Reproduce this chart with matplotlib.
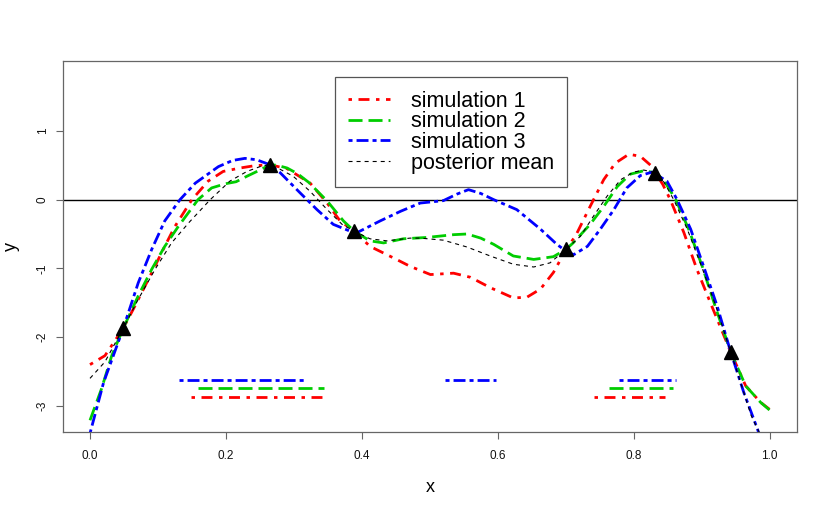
import matplotlib
matplotlib.use("Agg")
import matplotlib.pyplot as plt

plt.rcParams['font.family'] = ['Liberation Sans', 'DejaVu Sans']
plt.rcParams['lines.scale_dashes'] = False

# ---- data ----
sim1_x = [0.000, 0.022, 0.049, 0.066, 0.091, 0.110, 0.125, 0.150, 0.174, 0.196, 0.221, 0.240,
          0.252, 0.265, 0.290, 0.324, 0.349, 0.368, 0.389, 0.412, 0.447, 0.471, 0.501, 0.535,
          0.560, 0.589, 0.623, 0.643, 0.663, 0.682, 0.701, 0.715, 0.736, 0.756, 0.773, 0.793,
          0.810, 0.825, 0.832, 0.843, 0.854, 0.874, 0.893, 0.913, 0.933, 0.943, 0.965, 0.987, 1.000]
sim1_y = [-2.40, -2.27, -1.87, -1.55, -1.06, -0.68, -0.39, 0.00, 0.27, 0.41, 0.46, 0.49,
          0.50, 0.507, 0.45, 0.24, -0.05, -0.31, -0.46, -0.68, -0.85, -0.97, -1.09, -1.07,
          -1.13, -1.28, -1.43, -1.42, -1.30, -1.06, -0.72, -0.52, -0.10, 0.29, 0.53, 0.66,
          0.63, 0.50, 0.39, 0.22, 0.00, -0.48, -1.01, -1.50, -1.98, -2.22, -2.71, -2.95, -3.05]

sim2_x = [0.000, 0.017, 0.032, 0.049, 0.071, 0.091, 0.110, 0.130, 0.159, 0.179, 0.199, 0.215,
          0.231, 0.250, 0.265, 0.275, 0.290, 0.305, 0.322, 0.349, 0.373, 0.389, 0.412, 0.432,
          0.461, 0.496, 0.535, 0.555, 0.575, 0.594, 0.623, 0.653, 0.682, 0.701, 0.711, 0.736,
          0.756, 0.776, 0.795, 0.815, 0.832, 0.844, 0.862, 0.881, 0.901, 0.920, 0.943, 0.965,
          0.987, 1.000]
sim2_y = [-3.21, -2.75, -2.27, -1.87, -1.40, -1.01, -0.68, -0.39, 0.00, 0.17, 0.23, 0.26,
          0.34, 0.43, 0.507, 0.50, 0.46, 0.38, 0.25, -0.02, -0.31, -0.46, -0.60, -0.63,
          -0.57, -0.55, -0.51, -0.50, -0.56, -0.65, -0.82, -0.87, -0.83, -0.72, -0.63, -0.36,
          -0.10, 0.19, 0.37, 0.42, 0.39, 0.29, 0.00, -0.43, -0.97, -1.55, -2.22, -2.71,
          -2.95, -3.06]

sim3_x = [0.000, 0.020, 0.049, 0.071, 0.091, 0.110, 0.1325, 0.155, 0.189, 0.210, 0.228, 0.245,
          0.265, 0.280, 0.309, 0.334, 0.358, 0.383, 0.393, 0.427, 0.457, 0.486, 0.520, 0.540,
          0.557, 0.575, 0.594, 0.628, 0.663, 0.687, 0.702, 0.712, 0.732, 0.751, 0.771, 0.790,
          0.810, 0.827, 0.849, 0.864, 0.884, 0.903, 0.923, 0.943, 0.962, 0.982, 1.000]
sim3_y = [-3.40, -2.66, -1.87, -1.21, -0.72, -0.31, 0.00, 0.24, 0.48, 0.57, 0.60, 0.58,
          0.507, 0.39, 0.10, -0.145, -0.36, -0.46, -0.48, -0.31, -0.17, -0.05, -0.015, 0.08,
          0.145, 0.09, 0.00, -0.145, -0.43, -0.65, -0.76, -0.80, -0.68, -0.43, -0.145, 0.17,
          0.35, 0.40, 0.27, 0.00, -0.43, -0.97, -1.55, -2.22, -2.80, -3.33, -3.85]

mean_x = [0.000, 0.022, 0.049, 0.071, 0.096, 0.120, 0.145, 0.177, 0.206, 0.231, 0.253, 0.265,
          0.280, 0.299, 0.324, 0.349, 0.371, 0.389, 0.412, 0.437, 0.471, 0.486, 0.520, 0.555,
          0.589, 0.623, 0.653, 0.677, 0.701, 0.722, 0.741, 0.761, 0.781, 0.800, 0.815, 0.832,
          0.845, 0.859, 0.879, 0.900, 0.921, 0.943, 0.962, 0.973, 1.000]
mean_y = [-2.60, -2.36, -1.87, -1.45, -1.01, -0.63, -0.34, 0.00, 0.27, 0.41, 0.49, 0.507,
          0.44, 0.34, 0.12, -0.145, -0.36, -0.46, -0.57, -0.60, -0.56, -0.56, -0.59, -0.69,
          -0.82, -0.94, -0.98, -0.92, -0.72, -0.53, -0.24, 0.05, 0.29, 0.40, 0.43, 0.39,
          0.25, 0.00, -0.43, -0.97, -1.55, -2.22, -2.80, -3.14, -3.70]

obs_x = [0.049, 0.265, 0.389, 0.701, 0.832, 0.943]
obs_y = [-1.87, 0.507, -0.46, -0.72, 0.39, -2.22]

# intervals marked along the bottom (start, end) and their heights
sim3_int = [(0.131, 0.317), (0.522, 0.598), (0.779, 0.862)]
sim2_int = [(0.159, 0.345), (0.764, 0.858)]
sim1_int = [(0.148, 0.341), (0.741, 0.846)]
sim3_lvl, sim2_lvl, sim1_lvl = -2.62, -2.74, -2.87

labels = ["simulation 1", "simulation 2", "simulation 3", "posterior mean"]
xticks = [0.0, 0.2, 0.4, 0.6, 0.8, 1.0]
xticklabels = ["0.0", "0.2", "0.4", "0.6", "0.8", "1.0"]
yticks = [-3, -2, -1, 0, 1]

# ---- styles ----
RED, GREEN, BLUE = "#ff0000", "#00cd00", "#0000ff"
LW = 2.0
dash_red = (0, (2.5, 4.7, 7.9, 4.7))
dash_green = (0, (10.1, 4.3))
dash_blue = (0, (2.9, 2.9, 8.6, 2.9))
dash_black = (0, (2.9, 2.9))

fig = plt.figure(figsize=(8.3, 5.11), dpi=100)
ax = fig.add_axes([63/830, 79.5/511, 734/830, 370/511])

ax.axhline(0, color="black", lw=1.0, zorder=1)

h1, = ax.plot(sim1_x, sim1_y, color=RED, lw=LW, linestyle=dash_red, label=labels[0])
h2, = ax.plot(sim2_x, sim2_y, color=GREEN, lw=LW, linestyle=dash_green, label=labels[1])
h3, = ax.plot(sim3_x, sim3_y, color=BLUE, lw=LW, linestyle=dash_blue, label=labels[2])
h4, = ax.plot(mean_x, mean_y, color="black", lw=0.8, linestyle=dash_black, label=labels[3])

for (a, b) in sim3_int:
    ax.plot([a, b], [sim3_lvl, sim3_lvl], color=BLUE, lw=LW, linestyle=dash_blue)
for (a, b) in sim2_int:
    ax.plot([a, b], [sim2_lvl, sim2_lvl], color=GREEN, lw=LW, linestyle=dash_green)
for (a, b) in sim1_int:
    ax.plot([a, b], [sim1_lvl, sim1_lvl], color=RED, lw=LW, linestyle=dash_red)

ax.plot(obs_x, obs_y, linestyle="none", marker="^", ms=10.5, color="black", zorder=5)

ax.set_xlim((63 - 90) / 679.5, (797 - 90) / 679.5)
ax.set_ylim(-3.373, 2.009)
ax.set_xticks(xticks)
ax.set_xticklabels(xticklabels)
ax.set_yticks(yticks)
ax.set_yticklabels([str(v) for v in yticks])

for s in ax.spines.values():
    s.set_color("#666666")
    s.set_linewidth(0.9)
ax.tick_params(axis="both", direction="out", length=5, width=0.8, color="#666666",
               labelsize=8.5, labelcolor="#111111")
ax.tick_params(axis="x", pad=8)
ax.tick_params(axis="y", pad=5.4, labelrotation=90)
for lab in ax.get_yticklabels():
    lab.set_va("center")

ax.set_xlabel("x", fontsize=13)
ax.set_ylabel("y", fontsize=13)
ax.xaxis.set_label_coords(0.5, (432 - 488) / 370)
ax.xaxis.label.set_va("center")
ax.yaxis.set_label_coords((11 - 63) / 734, 0.5)
ax.yaxis.label.set_va("center")

leg = ax.legend(handles=[h1, h2, h3, h4], loc="upper left",
                bbox_to_anchor=((335 - 63) / 734, (432 - 78) / 370),
                borderaxespad=0, fontsize=15.5, frameon=True, fancybox=False,
                framealpha=1, edgecolor="#555555", handlelength=1.95,
                handletextpad=0.95, labelspacing=-0.02, borderpad=0.62)
leg.get_frame().set_linewidth(0.9)

fig.savefig("out.png", dpi=100)
